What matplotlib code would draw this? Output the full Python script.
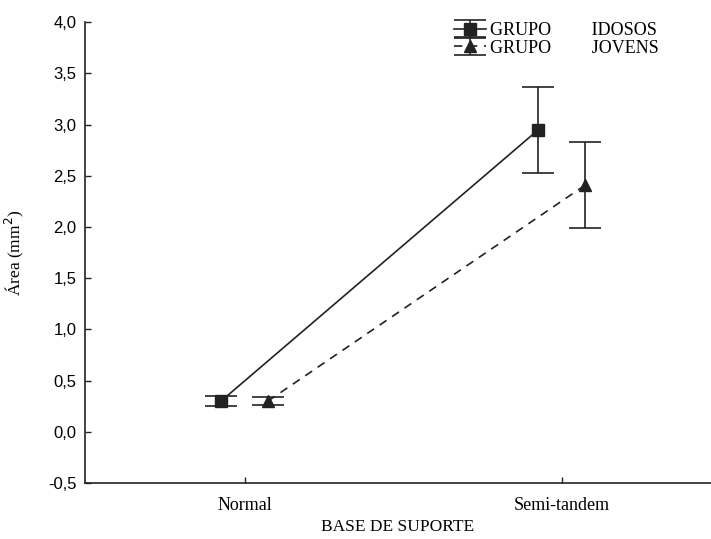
import matplotlib
matplotlib.use("Agg")
import matplotlib.pyplot as plt
import numpy as np

categories = ["Normal", "Semi-tandem"]
idosos_mean = [0.30, 2.95]
idosos_err = [0.05, 0.42]
jovens_mean = [0.30, 2.41]
jovens_err = [0.04, 0.42]
yticks = [-0.5, 0.0, 0.5, 1.0, 1.5, 2.0, 2.5, 3.0, 3.5, 4.0]

fig = plt.figure(figsize=(7.11, 5.39), dpi=100)
ax = fig.add_axes([0.1195, 0.1039, 0.8805, 0.855])
x = np.arange(len(categories))
off = 0.074
col = "#222222"
h1 = ax.errorbar(x - off, idosos_mean, yerr=idosos_err, color=col, marker="s", ms=8,
                 lw=1.2, capsize=11.5, capthick=1.2, elinewidth=1.2, ls="-")
h2 = ax.errorbar(x + off, jovens_mean, yerr=jovens_err, color=col, marker="^", ms=8,
                 lw=1.2, capsize=11.5, capthick=1.2, elinewidth=1.2, ls=(0, (5, 4)))

ax.set_ylim(-0.5, 4.0)
ax.set_xlim(-0.503, 1.47)
ax.set_yticks(yticks)
ax.set_yticklabels([f"{v:.1f}".replace(".", ",") for v in yticks],
                   fontfamily="Liberation Sans", fontsize=12)
ax.set_xticks(x)
ax.set_xticklabels(categories, fontfamily="Liberation Serif", fontsize=13)
ax.tick_params(direction="in", length=4, width=1, color=col)
ax.tick_params(axis="x", pad=10)
ax.tick_params(axis="y", pad=6)
for s in ["top", "right"]:
    ax.spines[s].set_visible(False)
for s in ["left", "bottom"]:
    ax.spines[s].set_color(col)
    ax.spines[s].set_linewidth(1.2)

ax.set_xlabel("BASE DE SUPORTE", fontfamily="Liberation Serif", fontsize=12.5, labelpad=4)
ax.set_ylabel("Área (mm$^2$)", fontfamily="Liberation Serif", fontsize=12.5, labelpad=16)

leg = ax.legend([h1, h2], ["GRUPO         IDOSOS", "GRUPO         JOVENS"],
                loc="upper left", bbox_to_anchor=(0.563, 1.035), frameon=False,
                prop={"family": "Liberation Serif", "size": 13},
                handlelength=1.8, handletextpad=0.2, labelspacing=0.02)

fig.savefig("out.png", dpi=100)
